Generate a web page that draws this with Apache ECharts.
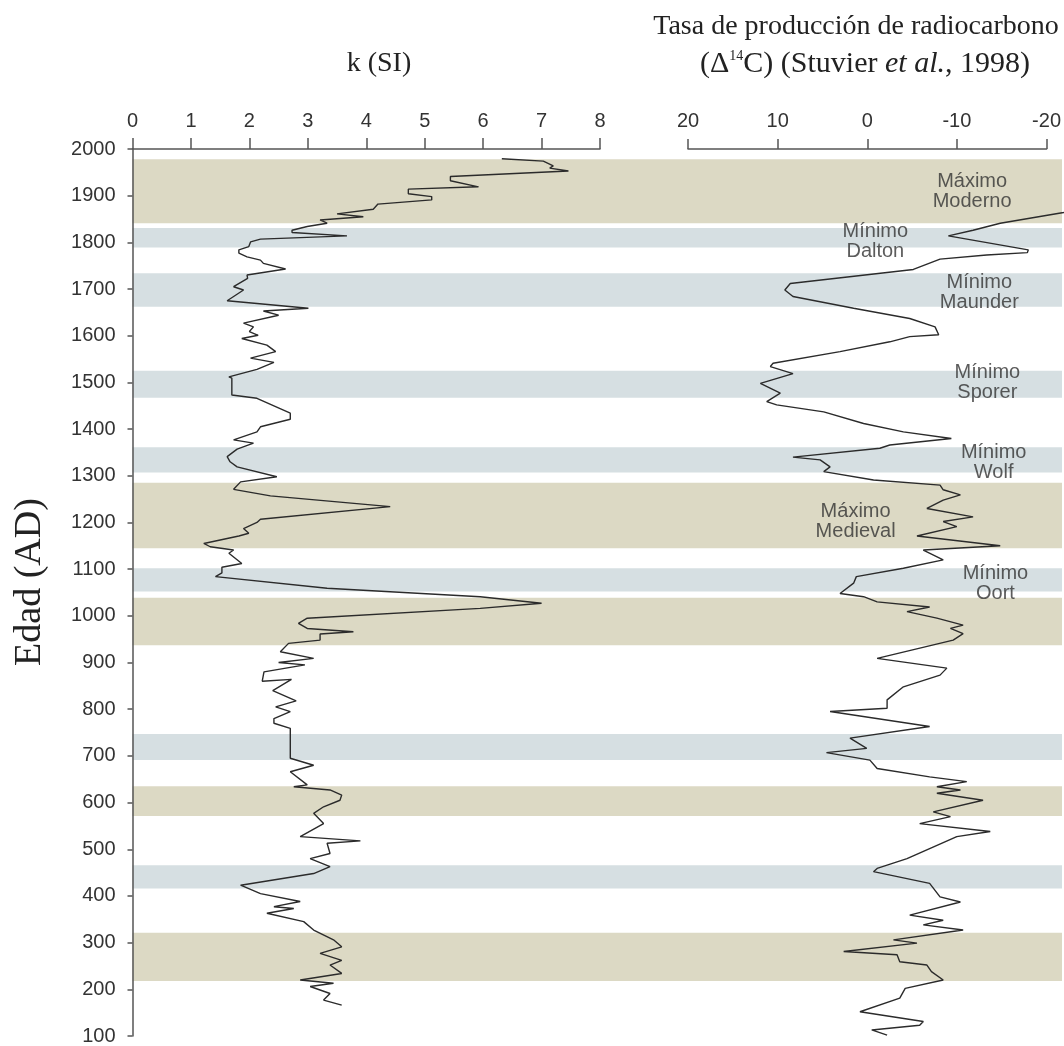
<!DOCTYPE html>
<html><head><meta charset="utf-8">
<script src="https://cdn.jsdelivr.net/npm/echarts@6/dist/echarts.min.js"></script>
<style>html,body{margin:0;padding:0;background:#fff}#c{width:1064px;height:1046px}</style>
</head><body><div id="c"></div>
<script>
// Magnetic susceptibility k (SI) by age (AD)
const kYears = [1979,1974,1964,1959,1953,1941,1932,1919,1914,1904,1898,1891,1882,1871,1861,1855,1848,1841,1834,1826,1821,1814,1807,1801,1791,1784,1777,1769,1762,1755,1743,1730,1723,1705,1698,1675,1659,1653,1644,1627,1619,1609,1601,1594,1580,1566,1552,1543,1528,1512,1509,1473,1466,1434,1421,1405,1394,1377,1370,1357,1341,1330,1319,1298,1287,1271,1257,1234,1207,1200,1187,1177,1171,1155,1148,1141,1134,1112,1104,1092,1084,1059,1041,1027,1016,995,984,973,966,961,948,941,923,920,909,900,895,880,860,864,840,818,805,795,780,770,759,695,680,666,638,634,627,616,605,591,577,555,527,518,513,491,480,463,448,423,405,388,377,373,363,345,327,306,291,277,262,252,234,220,213,206,191,177,166];
const kValues = [6.32,7.03,7.2,7.14,7.46,5.44,5.44,5.92,4.72,4.72,5.12,5.12,4.2,4.12,3.5,3.95,3.21,3.33,2.99,2.73,2.73,3.67,2.19,2.02,1.99,1.82,1.82,1.96,2.19,2.24,2.62,1.96,1.97,1.73,1.9,1.62,3.01,2.24,2.5,1.9,2.07,2.0,2.15,1.87,2.3,2.45,2.02,2.42,2.13,1.65,1.7,1.7,2.13,2.7,2.7,2.19,2.13,1.73,2.07,1.79,1.62,1.67,1.79,2.47,1.85,1.73,2.36,4.41,2.19,2.13,1.9,1.99,1.82,1.22,1.33,1.73,1.65,1.87,1.53,1.53,1.42,3.33,5.95,7.0,5.95,2.99,2.84,2.99,3.78,3.21,3.21,2.67,2.53,2.53,3.1,2.5,2.95,2.25,2.22,2.72,2.4,2.8,2.45,2.7,2.42,2.42,2.7,2.7,3.1,2.7,2.99,2.76,3.38,3.58,3.55,3.27,3.1,3.27,2.87,3.9,3.33,3.38,3.04,3.38,3.1,1.85,2.19,2.87,2.42,2.76,2.3,2.93,3.1,3.44,3.58,3.21,3.58,3.38,3.58,2.87,3.44,3.04,3.38,3.27,3.58];

// Radiocarbon production rate (Δ14C) by age (AD)
const cYears = [1870,1864,1841,1826,1814,1784,1778,1773,1764,1742,1712,1698,1684,1659,1637,1619,1602,1598,1587,1566,1541,1534,1519,1498,1477,1459,1452,1437,1412,1394,1380,1366,1359,1340,1334,1319,1309,1291,1280,1270,1259,1248,1230,1212,1202,1191,1171,1150,1141,1120,1102,1084,1070,1048,1041,1030,1019,1009,995,980,973,962,948,909,888,873,848,820,802,795,763,738,716,707,691,673,655,645,634,627,620,605,580,570,555,538,527,480,459,452,427,398,387,359,348,338,327,306,299,281,274,259,252,238,220,202,181,152,131,123,113,102];
const cValues = [-23.3,-21.5,-14.5,-11.5,-8.77,-17.6,-17.5,-13.0,-7.85,-4.9,8.7,9.3,8.4,1.7,-4.5,-7.3,-7.7,-4.5,-2.3,3.2,10.6,10.9,8.4,12.0,9.8,11.3,10.2,5.0,0.6,-3.8,-9.1,-2.3,-1.2,8.4,5.4,4.3,5.0,-0.5,-7.85,-8.2,-10.1,-8.2,-6.4,-11.5,-8.2,-9.7,-5.3,-14.5,-6.0,-8.2,-3.8,1.4,1.7,3.2,0.6,-0.9,-6.7,-4.2,-7.5,-10.4,-9.0,-10.4,-9.3,-0.9,-8.6,-7.85,-3.8,-2.0,-2.0,4.3,-6.7,2.1,0.25,4.7,-0.1,-0.9,-6.7,-10.8,-7.5,-10.1,-7.5,-12.6,-7.1,-9.0,-5.6,-13.4,-9.7,-4.2,-0.9,-0.5,-6.7,-7.85,-10.1,-4.5,-8.2,-6.0,-10.4,-2.7,-5.3,2.8,-3.1,-3.4,-6.4,-6.9,-8.2,-4.0,-3.4,1.0,-6.0,-5.6,-0.3,-2.0];

// Shaded periods (years AD): kind 0 = maximum (tan), 1 = minimum (blue)
const bandStart = [1841,1789,1662,1467,1307,1145,1052,937,691,571,416,218];
const bandEnd   = [1978,1831,1734,1525,1361,1285,1102,1039,747,635,466,321];
const bandKind  = [0,1,1,1,1,0,1,0,1,0,1,0];

// Named solar periods, placed on the Δ14C scale
const eventNames = ['Máximo\nModerno','Mínimo\nDalton','Mínimo\nMaunder','Mínimo\nSporer','Mínimo\nWolf','Máximo\nMedieval','Mínimo\nOort'];
const eventX     = [-11.7,-0.9,-12.5,-13.4,-14.1,1.3,-14.3];
const eventYear  = [1910,1802,1693,1500,1329,1203,1070];

const chart = echarts.init(document.getElementById('c'), null, {renderer:'canvas'});
const axisCol = '#555';
const txtCol = '#333';
const sans = '"Liberation Sans", Arial, sans-serif';
const serif = '"Liberation Serif", "Times New Roman", serif';
const TOP = 149, H = 887;
const C_LEFT = 688, C_W = 362;           // visible Δ14C axis: +20 .. -20
const C_EXT = 1.5;                       // extra units beyond -20 up to the page edge
const C_W_EXT = C_W * (40 + C_EXT) / 40; // same scale, slightly wider hidden axis

const option = {
  animation: false,
  backgroundColor: '#fff',
  grid: [
    {left: 132.5, top: TOP, width: 467.5, height: H},
    {left: C_LEFT, top: TOP, width: C_W, height: H},
    {left: 132.5, top: TOP, width: 929.5, height: H},
    {left: C_LEFT, top: TOP, width: C_W_EXT, height: H}
  ],
  xAxis: [
    {gridIndex:0, type:'value', position:'top', min:0, max:8, interval:1,
     axisLine:{show:true, lineStyle:{color:axisCol, width:1.5}},
     axisTick:{show:true, inside:false, length:11, lineStyle:{color:axisCol, width:1.5}},
     axisLabel:{color:txtCol, fontSize:20, fontFamily:sans, margin:18},
     splitLine:{show:false}},
    {gridIndex:1, type:'value', position:'top', min:-20, max:20, interval:10, inverse:true,
     axisLine:{show:true, lineStyle:{color:axisCol, width:1.5}},
     axisTick:{show:true, inside:false, length:10, lineStyle:{color:axisCol, width:1.5}},
     axisLabel:{color:txtCol, fontSize:20, fontFamily:sans, margin:18},
     splitLine:{show:false}},
    {gridIndex:2, type:'value', min:0, max:1, show:false},
    {gridIndex:3, type:'value', min:-20 - C_EXT, max:20, inverse:true, show:false}
  ],
  yAxis: [
    {gridIndex:0, type:'value', min:100, max:2000, interval:100,
     axisLine:{show:true, lineStyle:{color:axisCol, width:1.5}},
     axisTick:{show:true, inside:false, length:5, lineStyle:{color:axisCol, width:1.5}},
     axisLabel:{color:txtCol, fontSize:20, fontFamily:sans, margin:17, formatter: v => String(v)},
     splitLine:{show:false}},
    {gridIndex:1, type:'value', min:100, max:2000, show:false},
    {gridIndex:2, type:'value', min:100, max:2000, show:false},
    {gridIndex:3, type:'value', min:100, max:2000, show:false}
  ],
  series: [
    {
      type:'custom', xAxisIndex:2, yAxisIndex:2, z:0, silent:true,
      data: bandStart.map((s,i)=>[0, s, bandEnd[i], bandKind[i]]),
      encode:{x:0, y:[1,2]},
      renderItem: function(params, api){
        const a = api.coord([0, api.value(2)]);
        const b = api.coord([1, api.value(1)]);
        return {type:'rect', shape:{x:a[0], y:a[1], width:b[0]-a[0], height:b[1]-a[1]},
                style:{fill: api.value(3) === 0 ? '#dcd9c4' : '#d6dfe2'}};
      }
    },
    {
      type:'line', xAxisIndex:0, yAxisIndex:0, z:3, symbol:'none', silent:true,
      lineStyle:{color:'#2b2b2b', width:1.4},
      data: kYears.map((y,i)=>[kValues[i], y])
    },
    {
      type:'line', xAxisIndex:3, yAxisIndex:3, z:3, symbol:'none', silent:true,
      lineStyle:{color:'#2b2b2b', width:1.4},
      data: cYears.map((y,i)=>[cValues[i], y])
    },
    {
      type:'scatter', xAxisIndex:1, yAxisIndex:1, z:4, symbolSize:0, silent:true,
      data: eventNames.map((n,i)=>({name:n, value:[eventX[i], eventYear[i]]})),
      label:{show:true, position:'inside', formatter:'{b}', color:txtCol, fontSize:20,
             fontFamily:sans, lineHeight:20, align:'center', verticalAlign:'middle'}
    }
  ],
  graphic: [
    {type:'text', x:379, y:64, style:{text:'k (SI)', font:'28px ' + serif, fill:'#222', textAlign:'center', textVerticalAlign:'middle'}},
    {type:'text', x:856, y:27, style:{text:'Tasa de producción de radiocarbono', font:'28px ' + serif, fill:'#222', textAlign:'center', textVerticalAlign:'middle'}},
    {type:'text', x:865, y:64, style:{
      text:'{a|(Δ}{s|14}{a|C) (Stuvier }{i|et al.}{a|, 1998)}',
      textAlign:'center', textVerticalAlign:'middle', fill:'#222',
      rich:{
        a:{fontSize:30, fontFamily:serif, fill:'#222'},
        s:{fontSize:14, fontFamily:serif, fill:'#222', verticalAlign:'top', padding:[0,0,12,0]},
        i:{fontSize:30, fontFamily:serif, fontStyle:'italic', fill:'#222'}
      }}},
    {type:'text', x:30, y:582, rotation:Math.PI/2, style:{text:'Edad (AD)', font:'38px ' + serif, fill:'#222', textAlign:'center', textVerticalAlign:'middle'}}
  ]
};
chart.setOption(option);
</script>
</body></html>
